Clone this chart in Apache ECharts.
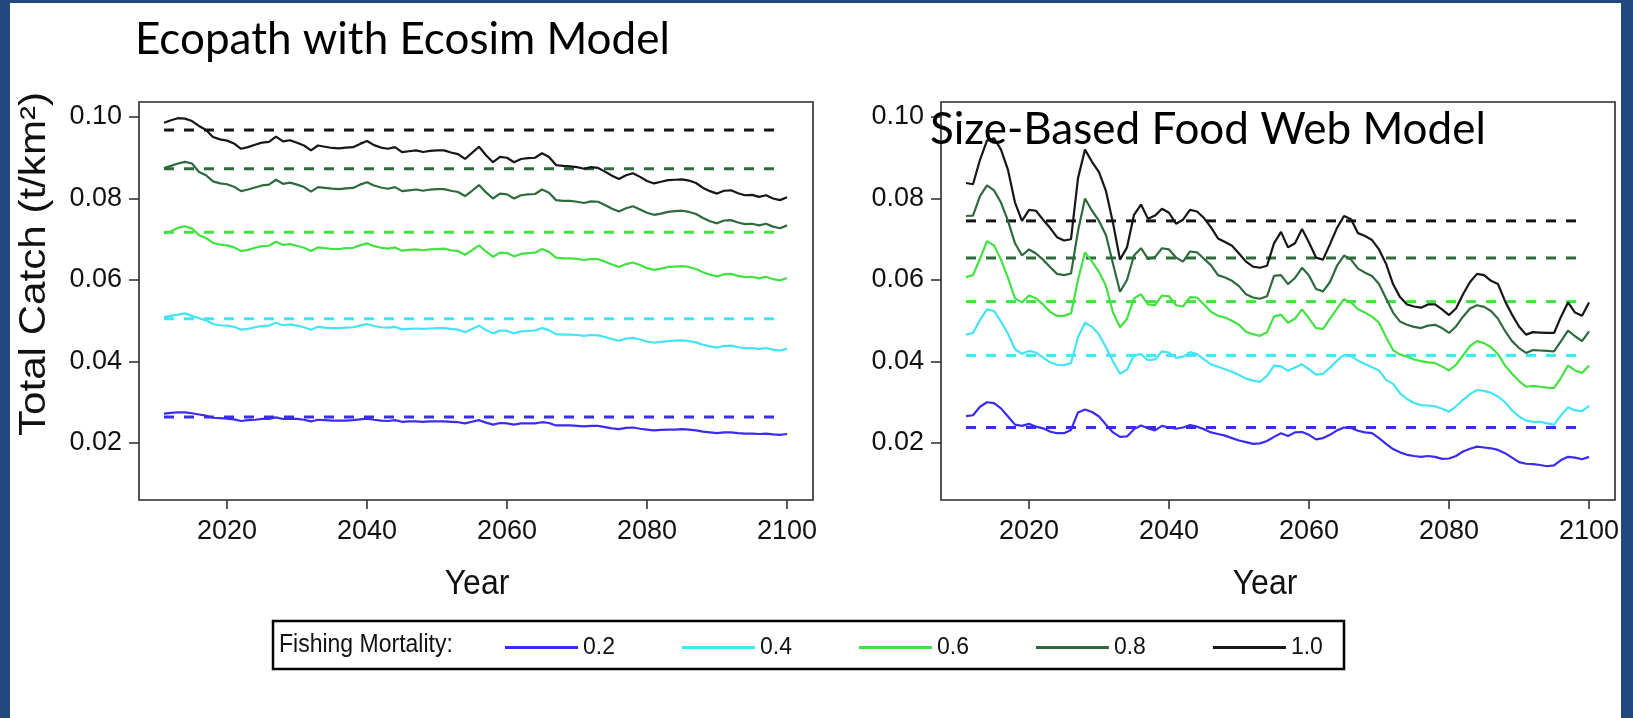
<!DOCTYPE html>
<html><head><meta charset="utf-8">
<script src="https://cdn.jsdelivr.net/npm/echarts@6/dist/echarts.min.js"></script>
<style>html,body{margin:0;padding:0;background:#fff}#c{width:1633px;height:718px}</style>
</head><body><div id="c"></div>
<script>
const years = [2011,2012,2013,2014,2015,2016,2017,2018,2019,2020,2021,2022,2023,2024,2025,2026,2027,2028,2029,2030,2031,2032,2033,2034,2035,2036,2037,2038,2039,2040,2041,2042,2043,2044,2045,2046,2047,2048,2049,2050,2051,2052,2053,2054,2055,2056,2057,2058,2059,2060,2061,2062,2063,2064,2065,2066,2067,2068,2069,2070,2071,2072,2073,2074,2075,2076,2077,2078,2079,2080,2081,2082,2083,2084,2085,2086,2087,2088,2089,2090,2091,2092,2093,2094,2095,2096,2097,2098,2099,2100];

// Ecopath with Ecosim Model (left panel)
const left02 = [.0272,.0274,.0275,.0275,.0273,.0270,.0267,.0262,.0261,.0260,.0258,.0254,.0256,.0257,.0259,.0259,.0263,.0259,.0260,.0259,.0257,.0253,.0257,.0256,.0255,.0255,.0255,.0256,.0258,.0260,.0257,.0255,.0254,.0256,.0252,.0253,.0253,.0252,.0253,.0253,.0253,.0252,.0251,.0248,.0252,.0256,.0250,.0245,.0249,.0248,.0245,.0248,.0248,.0248,.0251,.0249,.0243,.0243,.0243,.0242,.0241,.0242,.0242,.0239,.0236,.0234,.0237,.0238,.0235,.0233,.0231,.0232,.0233,.0233,.0234,.0233,.0231,.0228,.0226,.0224,.0226,.0226,.0224,.0223,.0223,.0222,.0223,.0221,.0220,.0222];
const left04 = [.0509,.0512,.0515,.0518,.0512,.0506,.0501,.0492,.0489,.0488,.0485,.0478,.0480,.0484,.0487,.0488,.0495,.0489,.0491,.0488,.0484,.0478,.0485,.0483,.0482,.0482,.0483,.0484,.0488,.0492,.0487,.0484,.0483,.0485,.0479,.0480,.0481,.0480,.0481,.0482,.0482,.0480,.0478,.0472,.0480,.0488,.0477,.0469,.0476,.0475,.0469,.0474,.0475,.0476,.0482,.0477,.0467,.0466,.0466,.0465,.0463,.0465,.0464,.0460,.0455,.0451,.0456,.0458,.0454,.0449,.0446,.0448,.0450,.0451,.0452,.0450,.0447,.0441,.0437,.0434,.0438,.0439,.0435,.0433,.0433,.0431,.0433,.0429,.0427,.0431];
const left06 = [.0714,.0719,.0728,.0732,.0726,.0710,.0703,.0691,.0687,.0685,.0680,.0671,.0674,.0679,.0683,.0684,.0694,.0686,.0688,.0684,.0679,.0671,.0680,.0678,.0676,.0676,.0678,.0679,.0685,.0690,.0683,.0679,.0677,.0680,.0672,.0674,.0675,.0673,.0675,.0676,.0677,.0673,.0671,.0662,.0673,.0685,.0670,.0657,.0667,.0666,.0658,.0664,.0666,.0667,.0676,.0669,.0655,.0653,.0653,.0652,.0649,.0652,.0651,.0645,.0638,.0632,.0639,.0643,.0637,.0629,.0625,.0628,.0632,.0633,.0634,.0632,.0627,.0619,.0613,.0609,.0614,.0615,.0610,.0607,.0608,.0604,.0608,.0602,.0599,.0605];
const left08 = [.0875,.0880,.0886,.0890,.0886,.0865,.0857,.0842,.0837,.0835,.0829,.0818,.0822,.0827,.0832,.0834,.0846,.0836,.0839,.0834,.0828,.0817,.0828,.0826,.0824,.0823,.0825,.0826,.0834,.0840,.0832,.0827,.0824,.0828,.0818,.0820,.0822,.0819,.0822,.0823,.0823,.0819,.0816,.0806,.0819,.0833,.0815,.0800,.0812,.0810,.0800,.0808,.0810,.0811,.0822,.0814,.0796,.0794,.0794,.0792,.0789,.0793,.0792,.0784,.0775,.0768,.0776,.0781,.0773,.0765,.0760,.0763,.0767,.0769,.0770,.0767,.0762,.0752,.0744,.0739,.0746,.0747,.0741,.0737,.0738,.0734,.0738,.0731,.0727,.0734];
const left10 = [.0986,.0992,.0997,.0996,.0990,.0978,.0968,.0951,.0945,.0942,.0935,.0922,.0926,.0932,.0937,.0939,.0952,.0940,.0943,.0937,.0930,.0918,.0930,.0927,.0924,.0923,.0925,.0926,.0934,.0941,.0931,.0925,.0922,.0926,.0914,.0916,.0918,.0914,.0917,.0918,.0918,.0913,.0909,.0897,.0912,.0927,.0906,.0889,.0902,.0900,.0889,.0897,.0899,.0900,.0911,.0902,.0882,.0880,.0879,.0877,.0873,.0877,.0875,.0866,.0856,.0848,.0857,.0862,.0853,.0843,.0837,.0841,.0845,.0846,.0847,.0844,.0838,.0826,.0818,.0812,.0819,.0820,.0813,.0808,.0809,.0804,.0808,.0800,.0796,.0803];
const leftMeans = [0.0264, 0.0505, 0.0717, 0.0873, 0.0968];

// Size-Based Food Web Model (right panel)
const right02 = [.0266,.0268,.0289,.0300,.0298,.0285,.0265,.0245,.0242,.0247,.0240,.0236,.0228,.0224,.0224,.0232,.0275,.0282,.0276,.0265,.0245,.0226,.0215,.0216,.0234,.0243,.0236,.0231,.0242,.0238,.0235,.0238,.0244,.0240,.0234,.0226,.0222,.0218,.0212,.0206,.0202,.0198,.0199,.0205,.0215,.0224,.0217,.0226,.0227,.0220,.0209,.0212,.0220,.0231,.0238,.0237,.0230,.0226,.0224,.0212,.0198,.0185,.0177,.0171,.0168,.0166,.0168,.0166,.0161,.0162,.0168,.0179,.0186,.0191,.0189,.0187,.0183,.0175,.0164,.0153,.0149,.0148,.0146,.0143,.0145,.0158,.0166,.0164,.0160,.0166];
const right04 = [.0466,.0470,.0502,.0528,.0524,.0498,.0468,.0430,.0419,.0426,.0422,.0410,.0398,.0392,.0391,.0396,.0460,.0495,.0485,.0466,.0435,.0400,.0370,.0380,.0415,.0418,.0403,.0405,.0425,.0422,.0409,.0412,.0423,.0418,.0405,.0393,.0387,.0381,.0375,.0367,.0358,.0353,.0350,.0365,.0390,.0388,.0377,.0385,.0393,.0381,.0368,.0370,.0385,.0402,.0416,.0413,.0402,.0394,.0386,.0378,.0355,.0345,.0322,.0308,.0298,.0293,.0292,.0290,.0284,.0277,.0290,.0306,.0320,.0330,.0328,.0323,.0314,.0300,.0280,.0265,.0255,.0252,.0252,.0248,.0245,.0268,.0288,.0280,.0278,.0291];
const right06 = [.0607,.0612,.0652,.0695,.0685,.0650,.0605,.0555,.0545,.0562,.0555,.0540,.0522,.0512,.0512,.0518,.0600,.0668,.0645,.0620,.0585,.0520,.0484,.0505,.0555,.0565,.0540,.0538,.0562,.0560,.0538,.0535,.0558,.0557,.0540,.0522,.0512,.0508,.0500,.0490,.0473,.0467,.0463,.0472,.0510,.0515,.0495,.0505,.0528,.0506,.0482,.0480,.0505,.0530,.0553,.0545,.0528,.0520,.0510,.0495,.0460,.0428,.0417,.0412,.0405,.0401,.0398,.0396,.0388,.0378,.0392,.0415,.0438,.0450,.0445,.0435,.0418,.0390,.0370,.0352,.0338,.0340,.0338,.0336,.0335,.0360,.0390,.0378,.0372,.0390];
const right08 = [.0757,.0758,.0806,.0832,.0820,.0790,.0745,.0690,.0660,.0675,.0665,.0650,.0632,.0615,.0612,.0616,.0720,.0800,.0770,.0745,.0710,.0640,.0571,.0600,.0660,.0678,.0652,.0656,.0678,.0675,.0655,.0645,.0670,.0668,.0652,.0636,.0612,.0606,.0598,.0585,.0565,.0557,.0554,.0560,.0610,.0612,.0590,.0605,.0630,.0611,.0578,.0572,.0595,.0635,.0660,.0650,.0628,.0618,.0610,.0590,.0555,.0520,.0498,.0490,.0485,.0482,.0488,.0490,.0482,.0470,.0486,.0510,.0530,.0538,.0534,.0524,.0505,.0475,.0450,.0433,.0421,.0428,.0427,.0426,.0425,.0450,.0476,.0462,.0450,.0474];
const right10 = [.0838,.0835,.0895,.0942,.0948,.0920,.0870,.0790,.0745,.0772,.0770,.0748,.0728,.0705,.0697,.0700,.0850,.0920,.0890,.0865,.0818,.0740,.0650,.0680,.0760,.0785,.0750,.0758,.0775,.0765,.0738,.0748,.0772,.0768,.0752,.0729,.0702,.0693,.0684,.0665,.0645,.0633,.0630,.0635,.0690,.0718,.0680,.0690,.0725,.0692,.0655,.0650,.0688,.0728,.0757,.0749,.0715,.0708,.0698,.0675,.0640,.0590,.0558,.0540,.0535,.0532,.0540,.0540,.0528,.0514,.0530,.0565,.0595,.0615,.0612,.0598,.0590,.0548,.0515,.0486,.0466,.0472,.0471,.0470,.0470,.0510,.0545,.0520,.0512,.0545];
const rightMeans = [0.0238, 0.0415, 0.0547, 0.0654, 0.0745];

const meanSpan = [2011, 2099];
const mortality = ['0.2', '0.4', '0.6', '0.8', '1.0'];
const xTicks = [2020, 2040, 2060, 2080, 2100];
const yTicks = [0.02, 0.04, 0.06, 0.08, 0.10];
const panelTitles = ['Ecopath with Ecosim Model', 'Size-Based Food Web Model'];
const yTitle = 'Total Catch (t/km²)';
const xTitle = 'Year';
const legendTitle = 'Fishing Mortality:';

const colors = ['#3a2bf0', '#44e4f4', '#43e243', '#2e6a3e', '#161616'];
const panels = [
  {lines: [left02, left04, left06, left08, left10], means: leftMeans},
  {lines: [right02, right04, right06, right08, right10], means: rightMeans}
];
const FONT = '"Liberation Sans", Arial, sans-serif';

const grid = [], xAxis = [], yAxis = [], series = [];
const gridLefts = [139, 941];
panels.forEach((p, gi) => {
  grid.push({left: gridLefts[gi], top: 102, width: 674, height: 398, show: true,
    borderColor: '#2a2a2a', borderWidth: 1.6, backgroundColor: 'transparent'});
  xAxis.push({type: 'value', gridIndex: gi, min: 2007.43, max: 2103.71,
    axisLine: {show: false}, splitLine: {show: false},
    axisTick: {show: true, customValues: xTicks, length: 9, lineStyle: {color: '#2a2a2a', width: 1.5}},
    axisLabel: {customValues: xTicks, margin: 18, fontSize: 27, fontFamily: FONT, color: '#111',
      formatter: v => String(Math.round(v))}});
  yAxis.push({type: 'value', gridIndex: gi, min: 0.00601, max: 0.10368,
    axisLine: {show: false}, splitLine: {show: false},
    axisTick: {show: true, customValues: yTicks, length: 10, lineStyle: {color: '#2a2a2a', width: 1.5}},
    axisLabel: {customValues: yTicks, margin: 17, fontSize: 27, fontFamily: FONT, color: '#111',
      formatter: v => Number(v).toFixed(2)}});
  p.means.forEach((m, i) => {
    series.push({type: 'line', name: mortality[i] + ' mean', xAxisIndex: gi, yAxisIndex: gi,
      data: [[meanSpan[0], m], [meanSpan[1], m]], symbol: 'none', silent: true,
      lineStyle: {color: colors[i], width: 3, type: [10, 10]}, itemStyle: {color: colors[i]}, z: 2});
  });
  p.lines.forEach((vals, i) => {
    series.push({type: 'line', name: mortality[i], xAxisIndex: gi, yAxisIndex: gi,
      data: years.map((y, k) => [y, vals[k]]), symbol: 'none', showSymbol: false, silent: true,
      lineStyle: {color: colors[i], width: 2.2}, itemStyle: {color: colors[i]}, z: 3});
  });
});

const blue = '#21497f';
const option = {
  animation: false,
  backgroundColor: '#ffffff',
  grid, xAxis, yAxis, series,
  legend: {data: mortality, left: 500, top: 631, itemWidth: 73, itemHeight: 3, icon: 'rect', itemGap: 67,
    selectedMode: false, textStyle: {fontSize: 23, fontFamily: FONT, color: '#111'}},
  graphic: [
    {type: 'rect', shape: {x: 0, y: 0, width: 10, height: 718}, style: {fill: blue}, z: 100},
    {type: 'rect', shape: {x: 0, y: 0, width: 1633, height: 3}, style: {fill: blue}, z: 100},
    {type: 'rect', shape: {x: 1621, y: 0, width: 12, height: 718}, style: {fill: blue}, z: 100},
    {type: 'rect', shape: {x: 273, y: 621, width: 1071, height: 48}, style: {fill: 'none', stroke: '#000', lineWidth: 2.5}, z: 50},
    {type: 'text', x: 279, y: 645, scaleY: 1.1, style: {text: legendTitle, fontSize: 23, fontFamily: FONT, fill: '#111', align: 'left', verticalAlign: 'middle'}, z: 50},
    {type: 'text', x: 135, y: 40, style: {text: panelTitles[0], fontSize: 44, fontFamily: 'Lato, "Open Sans", sans-serif', fill: '#000', align: 'left', verticalAlign: 'middle'}, z: 60},
    {type: 'text', x: 930, y: 130, style: {text: panelTitles[1], fontSize: 44, fontFamily: 'Lato, "Open Sans", sans-serif', fill: '#000', align: 'left', verticalAlign: 'middle'}, z: 60},
    {type: 'text', x: 35, y: 264, rotation: Math.PI / 2, scaleX: 1.17, style: {text: yTitle, fontSize: 36, fontFamily: FONT, fill: '#111', align: 'center', verticalAlign: 'middle'}, z: 50},
    {type: 'text', x: 477, y: 584, scaleY: 1.08, style: {text: xTitle, fontSize: 32, fontFamily: FONT, fill: '#111', align: 'center', verticalAlign: 'middle'}, z: 50},
    {type: 'text', x: 1265, y: 584, scaleY: 1.08, style: {text: xTitle, fontSize: 32, fontFamily: FONT, fill: '#111', align: 'center', verticalAlign: 'middle'}, z: 50}
  ]
};
const chart = echarts.init(document.getElementById('c'));
chart.setOption(option);
</script></body></html>
